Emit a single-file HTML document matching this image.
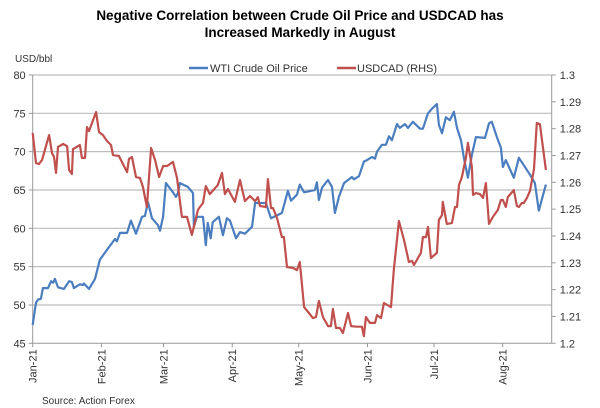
<!DOCTYPE html>
<html><head><meta charset="utf-8">
<style>
body{margin:0;background:#fff;}
svg{display:block;font-family:"Liberation Sans",Arial,sans-serif;}
</style></head>
<body>
<svg id="chart" width="600" height="408" viewBox="0 0 600 408">
<text x="300" y="20" text-anchor="middle" font-size="13.5" font-weight="bold" fill="#000">Negative Correlation between Crude Oil Price and USDCAD has</text>
<text x="300" y="37" text-anchor="middle" font-size="13.5" font-weight="bold" fill="#000">Increased Markedly in August</text>
<text x="15" y="62" font-size="10" fill="#333">USD/bbl</text>
<g>
<line x1="189" y1="68" x2="208" y2="68" stroke="#4a7ebf" stroke-width="2.5"/>
<text x="210" y="72" font-size="11" fill="#333">WTI Crude Oil Price</text>
<line x1="337" y1="68" x2="356" y2="68" stroke="#c0504d" stroke-width="2.5"/>
<text x="357" y="72" font-size="11" fill="#333">USDCAD (RHS)</text>
</g>
<g id="grid"></g><g id="axes"></g><g id="series"></g>
<text x="42" y="404" font-size="10" fill="#333">Source: Action Forex</text>
</svg>
<script>
const leftTicks=[45,50,55,60,65,70,75,80];
const rightTicks=[1.2,1.21,1.22,1.23,1.24,1.25,1.26,1.27,1.28,1.29,1.3];
const monthLabels=["Jan-21","Feb-21","Mar-21","Apr-21","May-21","Jun-21","Jul-21","Aug-21"];
const monthDays=[0,31,59,90,120,151,181,212];
const wtiDays=[0,1.5,2.4,3.7,4.6,6.9,8.3,9.2,10,11.4,14.1,16.4,17.7,18.6,21.3,22.7,23.1,25.4,28.1,30.3,33.5,37.1,38,39.4,42.6,44.3,46.6,49.3,50.6,52,53.8,56.5,57.4,58.8,60.1,63.3,64.6,65.5,66.4,70,72.3,72.7,74.1,75.4,76.8,78.1,79,80.3,81.2,84,85.8,87.6,89,91.7,93.5,95.7,98.9,100.3,103.9,105.2,107.5,112.4,115.1,116.5,119.2,120.5,122.4,127.3,128.2,129.1,130.5,133.2,135,136.3,138.1,140.4,142.2,144,144.9,147.2,149.4,150.8,153,154.4,155.3,157.5,159.3,160.7,162,164.3,165.6,167.9,169.3,171.5,174.7,176,178.3,180.1,182.3,183.2,184.6,186.4,188.2,190,191.4,193.2,194.5,196.3,198.1,199.9,204,205.8,207.1,209.4,211.2,212.1,213.4,217,219.3,224.3,226.5,228.3,231.5];
const wtiValues=[47.4,50.3,50.7,50.8,52.2,52.2,53.1,52.9,53.4,52.3,52.1,53.1,53,52.2,52.7,52.6,52.8,52.1,53.4,55.9,57.2,58.6,58.3,59.4,59.4,61,59.3,61.5,61.6,63.4,61.3,60.4,59.7,61.5,65.9,64.7,64.1,64.6,65.9,65.4,64.6,60.2,61.5,61.5,61.5,57.8,60.7,58.7,60.8,61.5,59.1,61.3,61,58.7,59.5,59.3,60.2,63.3,63.3,63.3,61.3,62,64.9,63.6,64.4,65.7,64.7,65,66,63.7,65.3,66.3,65.4,62,64.1,65.9,66.3,66.7,66.4,66.8,68.7,68.9,69.3,69.1,70,70.9,70.9,72,71.5,73.6,73.1,73.6,73.1,73.9,73,73,75,75.6,76.2,73.5,72.4,74.5,74.1,75.2,73.1,71.5,69.2,66.6,69.6,71.9,71.8,73.7,73.9,71.9,70.5,68,68.9,66.6,69.2,67,65.9,62.3,65.7];
const cadDays=[0,1.5,2.8,4.2,7.4,8.7,9.6,10.5,11.4,13.7,15.5,16.4,17.7,18.2,21.3,22.2,23.6,24.5,25.4,28.6,29.9,31.7,33.5,35.3,36.2,38.9,42.6,43.4,44.8,46.6,48.4,49.7,51.5,53.4,55.2,57,58.8,60.6,63.3,65.1,67.3,69.6,71.8,73.2,74.5,75.4,76.8,78.1,79.9,83.5,85.4,86.7,88.1,91.2,93.5,95.7,98,100.3,101.6,102.5,105.2,106.1,107.5,108.4,110.2,112.4,113.3,114.7,117.4,119.2,120.5,122.4,124.6,126.4,127.8,129.1,130.9,133.2,134.5,135.4,136.8,138.6,139.9,142.2,143.6,146.3,148.5,149.4,150.3,152.1,154.4,155.3,157.1,158.4,161.6,162.9,165.2,167.5,169.7,171.1,172,175.1,176,177.4,178.3,179.6,182.3,183.2,184.6,185,186.8,189.1,190.5,191.4,192.3,193.6,195.4,196.3,198.1,198.6,199.9,201.7,203.1,204.4,205.8,207.6,209.8,211.2,212.1,213.4,214.3,217,218.4,219.3,220.6,221.5,222.9,224.3,226.1,227.4,228.8,231.5];
const cadValues=[1.2784,1.2672,1.2668,1.2683,1.2776,1.2709,1.2695,1.2635,1.2732,1.2743,1.2735,1.2646,1.2631,1.2724,1.2739,1.2691,1.2691,1.2806,1.2791,1.2862,1.2787,1.2776,1.2754,1.2739,1.2702,1.2698,1.2638,1.2687,1.2694,1.262,1.2616,1.2583,1.2508,1.2728,1.2683,1.262,1.2661,1.2661,1.2676,1.2616,1.2471,1.2471,1.2404,1.2452,1.2497,1.2508,1.2523,1.2586,1.2556,1.259,1.2635,1.2556,1.2575,1.2527,1.2609,1.253,1.2549,1.253,1.2545,1.2512,1.2508,1.2612,1.2504,1.2504,1.2467,1.2396,1.2396,1.2284,1.2281,1.2273,1.2303,1.2135,1.2113,1.2094,1.2098,1.2158,1.2098,1.2064,1.2064,1.2128,1.2057,1.2057,1.2038,1.2113,1.2064,1.2062,1.2062,1.2027,1.2098,1.2076,1.2076,1.2105,1.2094,1.215,1.2135,1.2273,1.2456,1.2385,1.2303,1.2307,1.2292,1.2337,1.2396,1.2396,1.2434,1.2318,1.2337,1.246,1.2478,1.2527,1.2445,1.2448,1.2508,1.2508,1.259,1.262,1.2691,1.2747,1.2657,1.2553,1.256,1.2556,1.2542,1.2597,1.2445,1.2471,1.2497,1.2534,1.2534,1.2508,1.2545,1.2571,1.2512,1.2508,1.2523,1.2523,1.2542,1.2568,1.265,1.2821,1.2817,1.2646];

const NS="http://www.w3.org/2000/svg";
const X0=32.7,PXD=2.217,YT=75,YB=343.3,XR=551.7;
const xScale=d=>X0+d*PXD;
const yLeft=v=>YB-(v-45)/35*(YB-YT);
const yRight=v=>YB-(v-1.2)/0.1*(YB-YT);
function mk(tag,attrs,parent){const e=document.createElementNS(NS,tag);for(const k in attrs)e.setAttribute(k,attrs[k]);parent.appendChild(e);return e;}
const grid=document.getElementById('grid'),axes=document.getElementById('axes'),series=document.getElementById('series');
leftTicks.forEach(v=>{
  const y=yLeft(v);
  if(v>45){const g=mk('line',{x1:X0,x2:XR,y1:y,y2:y,stroke:'#bdbdbd','stroke-width':1.2},grid);
  
  }
  mk('line',{x1:X0-4,x2:X0,y1:y,y2:y,stroke:'#999'},axes);
  const t=mk('text',{x:X0-7,y:y+4,'text-anchor':'end','font-size':11,fill:'#333'},axes);
  t.textContent=v;
  
  
});
rightTicks.forEach(v=>{
  const y=yRight(v);
  mk('line',{x1:XR,x2:XR+4,y1:y,y2:y,stroke:'#999'},axes);
  const t=mk('text',{x:XR+8,y:y+4,'font-size':11,fill:'#333'},axes);
  t.textContent=String(v);
  
  
});
const la=mk('line',{x1:X0,x2:X0,y1:YT,y2:YB,stroke:'#999'},axes);


const ra=mk('line',{x1:XR,x2:XR,y1:YT,y2:YB,stroke:'#999'},axes);


const ba=mk('line',{x1:X0,x2:XR,y1:YB,y2:YB,stroke:'#999'},axes);


monthLabels.forEach((m,i)=>{
  const x=xScale(monthDays[i]);
  mk('line',{x1:x,x2:x,y1:YB,y2:YB+4,stroke:'#999'},axes);
  const t=mk('text',{x:0,y:0,'text-anchor':'end','font-size':11,fill:'#333',transform:`translate(${x+4},${YB+6}) rotate(-90)`},axes);
  t.textContent=m;
  
  
});
function line(days,vals,ys,color,name){
  const d=days.map((dd,i)=>(i?'L':'M')+xScale(dd).toFixed(1)+' '+ys(vals[i]).toFixed(1)).join(' ');
  const p=mk('path',{d:d,fill:'none',stroke:color,'stroke-width':2.2,'stroke-linejoin':'round'},series);
  
  
}
line(wtiDays,wtiValues,yLeft,'#4a7ebf','wti-line');
line(cadDays,cadValues,yRight,'#c0504d','usdcad-line');
</script>
</body></html>
